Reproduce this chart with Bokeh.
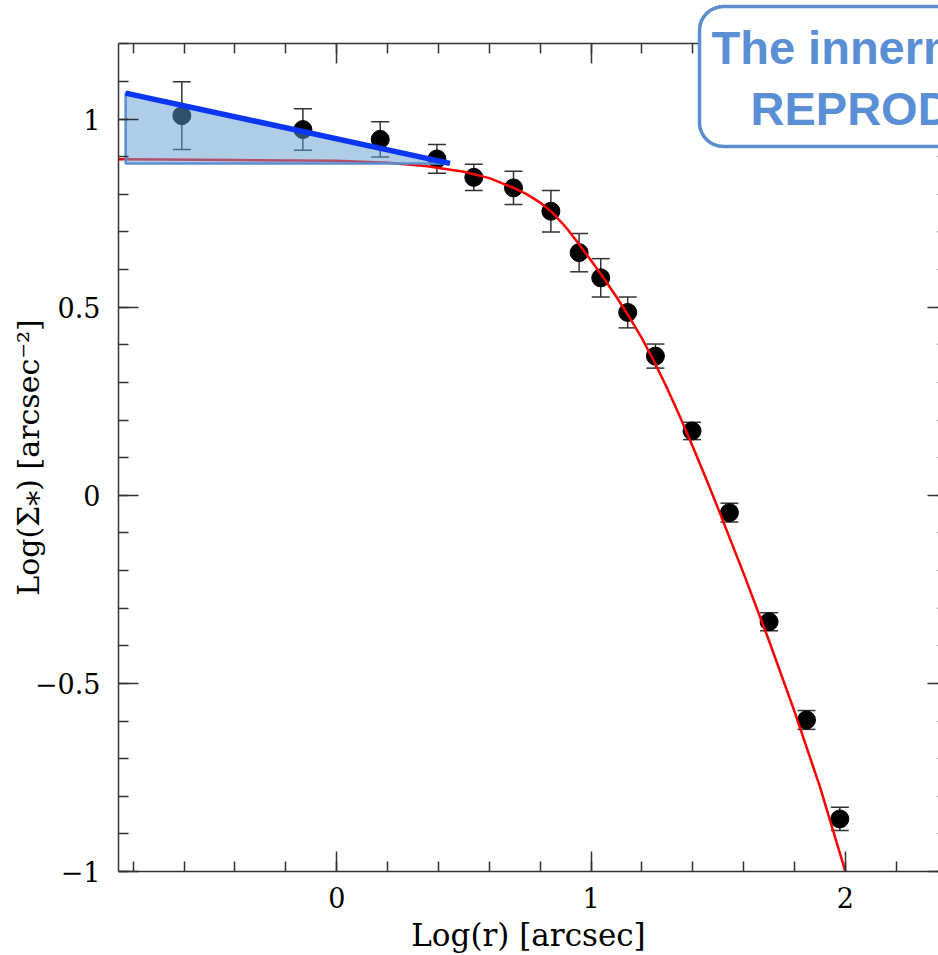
from bokeh.plotting import figure
from bokeh.models import Range1d, LinearAxis, SingleIntervalTicker, Label
from bokeh.embed import file_html
from bokeh.resources import INLINE

# Surface-density profile: log radius, log surface density and 1-sigma errors
log_r = [-0.609, -0.133, 0.171, 0.394, 0.539, 0.695, 0.842, 0.953,
         1.038, 1.144, 1.253, 1.397, 1.544, 1.700, 1.847, 1.978]
log_sigma = [1.009, 0.972, 0.946, 0.894, 0.845, 0.817, 0.755, 0.645,
             0.578, 0.486, 0.370, 0.171, -0.046, -0.336, -0.597, -0.860]
sigma_err = [0.090, 0.055, 0.047, 0.038, 0.035, 0.044, 0.055, 0.051,
             0.051, 0.041, 0.032, 0.023, 0.025, 0.024, 0.025, 0.031]

# Fitted model profile
model_log_r = [-0.858, -0.4, 0.0, 0.2, 0.35, 0.5, 0.6, 0.7, 0.75, 0.8,
               0.85, 0.9, 0.95, 1.0, 1.05, 1.1, 1.15, 1.2, 1.25, 1.3,
               1.35, 1.4, 1.45, 1.5, 1.6, 1.7, 1.8, 1.9, 2.0]
model_log_sigma = [0.893, 0.891, 0.889, 0.884, 0.875, 0.860, 0.843, 0.816,
                   0.799, 0.778, 0.750, 0.713, 0.670, 0.624, 0.577, 0.527,
                   0.474, 0.417, 0.353, 0.283, 0.208, 0.129, 0.048,
                   -0.036, -0.208, -0.387, -0.575, -0.775, -1.0]

# Inner power-law slope and the excess wedge it encloses above the model
inner_log_r = [-0.83, 0.445]
inner_log_sigma = [1.069, 0.882]
wedge_log_r = [-0.83, 0.445, -0.83]
wedge_log_sigma = [1.069, 0.882, 0.882]

x_ticks = [0, 1, 2]
x_tick_labels = ["0", "1", "2"]
y_ticks = [-1, -0.5, 0, 0.5, 1]
y_tick_labels = ["\u22121", "\u22120.5", "0", "0.5", "1"]
y_lo, y_hi = -1.0, 1.2          # extent of the boxed axes

note_lines = ["The innermost part is not", "REPRODUCED"]

AXIS_COLOR = "#333333"
SERIF = "DejaVu Serif"

# The plotting area reaches past the axes box (up to the canvas top, and a
# little below y_lo) so the callout can sit over the box; the bottom and top
# axes are pinned at y_lo and y_hi.
p = figure(width=938, height=955,
           x_range=Range1d(-0.858, 2.366), y_range=Range1d(-1.114, 1.315),
           output_backend="svg", toolbar_location=None,
           min_border_left=118, min_border_right=0,
           min_border_top=0, min_border_bottom=40)
p.grid.visible = False
p.outline_line_color = None
p.background_fill_color = "white"
p.border_fill_color = "white"

x_ticker = SingleIntervalTicker(interval=1, num_minor_ticks=5)
y_ticker = SingleIntervalTicker(interval=0.5, num_minor_ticks=5)


def style_ticks(ax, ticker):
    ax.ticker = ticker
    ax.axis_line_color = AXIS_COLOR
    ax.axis_line_width = 1.5
    ax.major_tick_line_color = AXIS_COLOR
    ax.minor_tick_line_color = AXIS_COLOR
    ax.major_tick_line_width = 1.5
    ax.minor_tick_line_width = 1.5
    ax.major_tick_in = 20
    ax.major_tick_out = 0
    ax.minor_tick_in = 10
    ax.minor_tick_out = 0


# bottom axis (ticks and numbers, pinned at y_lo)
xa = p.xaxis[0]
style_ticks(xa, x_ticker)
xa.fixed_location = y_lo
xa.major_label_overrides = dict(zip(x_ticks, x_tick_labels))
xa.major_label_text_font = SERIF
xa.major_label_text_font_size = "27px"
xa.major_label_text_color = "black"
xa.major_label_standoff = 15

# bottom title, carried by a bare axis under the plotting area
x_title = LinearAxis(axis_label="Log(r) [arcsec]",
                     axis_label_text_font=SERIF,
                     axis_label_text_font_size="31px",
                     axis_label_text_font_style="normal",
                     axis_label_text_color="black",
                     axis_label_standoff=2,
                     axis_line_color=None,
                     major_tick_line_color=None, minor_tick_line_color=None,
                     major_tick_in=0, major_tick_out=0,
                     minor_tick_in=0, minor_tick_out=0,
                     major_label_text_color=None,
                     major_label_text_font_size="0px",
                     major_label_standoff=0)
p.add_layout(x_title, "below")

# left axis
ya = p.yaxis[0]
style_ticks(ya, y_ticker)
ya.bounds = (y_lo, y_hi)
ya.major_label_overrides = dict(zip(y_ticks, y_tick_labels))
ya.major_label_text_font = SERIF
ya.major_label_text_font_size = "27px"
ya.major_label_text_color = "black"
ya.major_label_standoff = 18
ya.axis_label = "Log(\u03a3\u204e) [arcsec\u207b\u00b2]"
ya.axis_label_text_font = SERIF
ya.axis_label_text_font_size = "30px"
ya.axis_label_text_font_style = "normal"
ya.axis_label_text_color = "black"
ya.axis_label_standoff = -14

# top and right edges of the axes box carry ticks only (labels not drawn)
top = LinearAxis(ticker=x_ticker, major_label_text_color=None,
                 major_label_text_font_size="0px", major_label_standoff=0,
                 fixed_location=y_hi)
style_ticks(top, x_ticker)
p.add_layout(top, "above")

right = LinearAxis(ticker=y_ticker, major_label_text_color=None,
                   major_label_text_font_size="0px", major_label_standoff=0,
                   bounds=(y_lo, y_hi))
style_ticks(right, y_ticker)
right.axis_line_color = None
right.major_tick_in = 11
right.minor_tick_in = 1
p.add_layout(right, "right")

# error bars with caps
err_lo = [v - e for v, e in zip(log_sigma, sigma_err)]
err_hi = [v + e for v, e in zip(log_sigma, sigma_err)]
p.segment(x0=log_r, y0=err_lo, x1=log_r, y1=err_hi,
          line_color=AXIS_COLOR, line_width=1.5)
p.scatter(x=log_r + log_r, y=err_lo + err_hi, marker="dash", size=18,
          line_color=AXIS_COLOR, line_width=1.5)

# measured points
p.scatter(x=log_r, y=log_sigma, size=18, fill_color="black",
          line_color="black")

# model profile
p.line(x=model_log_r, y=model_log_sigma, line_color="#ff0000",
       line_width=2.5, line_join="round")

# inner excess wedge and its power-law edge
p.patch(x=wedge_log_r, y=wedge_log_sigma, fill_color="#659cd2",
        fill_alpha=0.51, line_color="#5b8fcf", line_width=2.5)
p.line(x=inner_log_r, y=inner_log_sigma, line_color="#0a36f5",
       line_width=5.5)

# callout box in canvas pixels
NOTE_BLUE = "#5a8fd6"
box = Label(x=699, y=6, x_units="canvas", y_units="canvas",
            text=note_lines[0], text_font="Liberation Sans",
            text_font_style="bold", text_font_size="47px",
            text_color=NOTE_BLUE, text_align="left",
            text_baseline="top",
            background_fill_color="white", background_fill_alpha=1.0,
            border_line_color="#5b8ecd", border_line_width=3.5,
            border_radius=24,
            padding=dict(left=12, right=330, top=14, bottom=73))
p.add_layout(box)
line2 = Label(x=750, y=81, x_units="canvas", y_units="canvas",
              text=note_lines[1], text_font="Liberation Sans",
              text_font_style="bold", text_font_size="47px",
              text_color=NOTE_BLUE, text_align="left",
              text_baseline="top")
p.add_layout(line2)

open("out.html", "w").write(file_html(p, INLINE))
